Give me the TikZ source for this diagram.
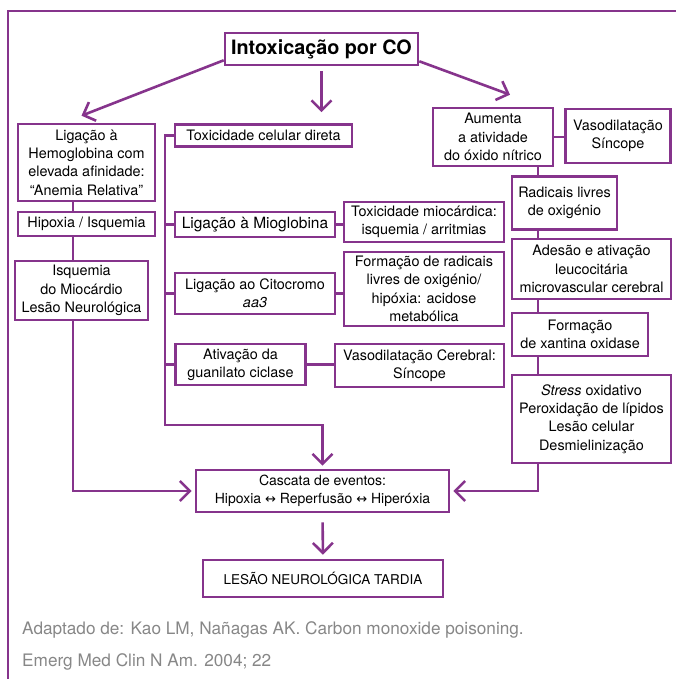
\documentclass[tikz,border=0pt]{standalone}
\usepackage{fontspec}
\setmainfont{TeX Gyre Heros}
\newfontfamily\symfont{DejaVu Sans}
\usetikzlibrary{arrows.meta,calc}
\definecolor{copurple}{RGB}{134,52,140}
\definecolor{notegray}{RGB}{135,135,135}
\newcommand{\lr}{{\symfont\fontsize{13}{14}\selectfont ↔}}
\tikzset{
  box/.style={draw=copurple, line width=2.6pt, fill=white, align=center, inner sep=0pt,
    font=\fontsize{14.4}{18.3}\selectfont},
  link/.style={draw=copurple, line width=2.6pt},
  arr/.style={link, -{Straight Barb[length=10pt,width=20pt]}},
  note/.style={anchor=west, text=notegray, inner sep=0pt, font=\fontsize{17.2}{20}\selectfont},
}
\begin{document}
\begin{tikzpicture}[x=1pt,y=-1pt]
\useasboundingbox (0,0) rectangle (676,679);
% frame
\draw[link, line width=2.8pt] (8,679) -- (8,11) -- (676,11);

% top
\node[box, minimum width=193pt, minimum height=32pt, font=\fontsize{19.8}{22}\selectfont\bfseries] (title) at (321.5,49) {Intoxicação por CO};

% left column
\node[box, minimum width=137pt, minimum height=77pt] (hemo) at (86.5,162.5) {Ligação à\\Hemoglobina com\\elevada afinidade:\\“Anemia Relativa”};
\node[box, minimum width=137pt, minimum height=24pt] (hipox) at (86.5,224) {Hipoxia / Isquemia};
\node[box, minimum width=133pt, minimum height=59pt] (isq) at (81.5,290.5) {Isquemia\\do Miocárdio\\Lesão Neurológica};

% middle column
\node[box, minimum width=177pt, minimum height=22pt] (toxcel) at (263.5,135.5) {Toxicidade celular direta};
\node[box, minimum width=160pt, minimum height=25pt, font=\fontsize{15.5}{18}\selectfont] (miog) at (255,224.5) {Ligação à Mioglobina};
\node[box, minimum width=160pt, minimum height=41pt] (citoc) at (255,293.5) {Ligação ao Citocromo\\\textit{aa3}};
\node[box, minimum width=130pt, minimum height=41pt] (guan) at (240.5,364.5) {Ativação da\\guanilato ciclase};
\node[box, minimum width=160pt, minimum height=40pt] (toxmio) at (424,222) {Toxicidade miocárdica:\\isquemia / arritmias};
\node[box, minimum width=160pt, minimum height=74pt] (radform) at (424,289) {Formação de radicais\\livres de oxigénio/\\hipóxia: acidose\\metabólica};
\node[box, minimum width=169pt, minimum height=43pt] (vasocer) at (419.5,365.5) {Vasodilatação Cerebral:\\Síncope};

% right column
\node[box, minimum width=120pt, minimum height=58pt] (aumenta) at (493,137) {Aumenta\\a atividade\\do óxido nítrico};
\node[box, minimum width=105pt, minimum height=54pt] (vaso) at (618,136) {Vasodilatação\\Síncope};
\node[box, minimum width=105pt, minimum height=53pt] (radic) at (564.5,203) {Radicais livres\\de oxigénio};
\node[box, minimum width=159pt, minimum height=60pt] (adesao) at (591.5,269) {Adesão e ativação\\leucocitária\\microvascular cerebral};
\node[box, minimum width=136pt, minimum height=43pt] (xant) at (580,334.5) {Formação\\de xantina oxidase};
\node[box, minimum width=159pt, minimum height=88pt] (stress) at (591.5,419) {\textit{Stress} oxidativo\\Peroxidação de lípidos\\Lesão celular\\Desmielinização};

% bottom
\node[box, minimum width=253pt, minimum height=42pt, font=\fontsize{14}{18.5}\selectfont] (cascata) at (322.5,491) {Cascata de eventos:\\Hipoxia \lr\ Reperfusão \lr\ Hiperóxia};
\node[box, minimum width=240pt, minimum height=37pt, font=\fontsize{13.5}{16}\selectfont] (lesao) at (323,578.5) {LESÃO NEUROLÓGICA TARDIA};

\node[note] (ref1) at (22,630) {Adaptado de: Kao LM, Nañagas AK. Carbon monoxide poisoning.};
\node[note] (ref2) at (22,662) {Emerg Med Clin N Am. 2004; 22};

% arrows from the title
\draw[arr] ([shift={(0,-6)}]title.south west) -- ([shift={(-5,-7)}]hemo.north);
\draw[arr] ([shift={(0,5)}]title.south) -- ($(title.south |- toxcel.north)+(0,-11)$);
\draw[arr] ([shift={(0,-5)}]title.south east) -- ([shift={(17,-12)}]aumenta.north);

% left links
\coordinate (lcol) at (73,0);
\draw[link] (hemo.south -| lcol) -- (hipox.north -| lcol);
\draw[link] (hipox.south -| lcol) -- (isq.north -| lcol);
\draw[arr, shorten >=3pt] (isq.south -| lcol) |- (cascata.west);

% middle links
\coordinate (mbend) at (165,425);
\draw[arr, shorten >=3pt] (toxcel.west) -| (mbend) -| (cascata.north);
\foreach \n in {miog,citoc,guan}
  \draw[link] (\n.west) -- (\n.west -| mbend);
\draw[link] (miog.east) -- (miog.east -| toxmio.west);
\draw[link] (citoc.east) -- (citoc.east -| radform.west);
\draw[link] (guan.east) -- (guan.east -| vasocer.west);

% right links
\coordinate (rcol) at (538,0);
\draw[link] (aumenta.east) -- (aumenta.east -| vaso.west);
\draw[link] (aumenta.south -| rcol) -- (radic.north -| rcol);
\draw[link] (radic.south -| rcol) -- (adesao.north -| rcol);
\draw[link] (adesao.south -| rcol) -- (xant.north -| rcol);
\draw[link] (xant.south -| rcol) -- (stress.north -| rcol);
\draw[arr, shorten >=3pt] (stress.south -| rcol) |- (cascata.east);

\draw[arr, shorten <=9pt, shorten >=4pt] (cascata.south) -- (lesao.north);
\end{tikzpicture}
\end{document}
